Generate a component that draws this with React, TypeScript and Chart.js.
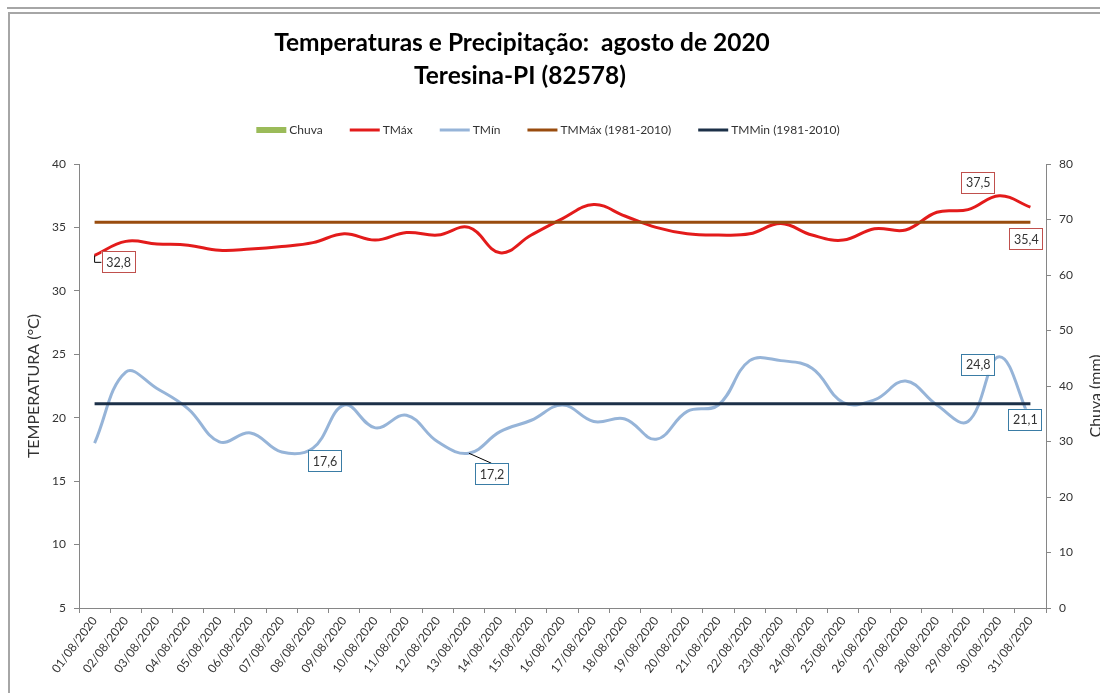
import React, { useEffect, useRef } from 'react';
import { Chart, registerables } from 'chart.js';

Chart.register(...registerables);

const FONT = 'Lato, "Open Sans", "DejaVu Sans", sans-serif';

const dias = [
  '01/08/2020', '02/08/2020', '03/08/2020', '04/08/2020', '05/08/2020', '06/08/2020', '07/08/2020', '08/08/2020',
  '09/08/2020', '10/08/2020', '11/08/2020', '12/08/2020', '13/08/2020', '14/08/2020', '15/08/2020', '16/08/2020',
  '17/08/2020', '18/08/2020', '19/08/2020', '20/08/2020', '21/08/2020', '22/08/2020', '23/08/2020', '24/08/2020',
  '25/08/2020', '26/08/2020', '27/08/2020', '28/08/2020', '29/08/2020', '30/08/2020', '31/08/2020',
];

const chuva = [0, 0, 0, 0, 0, 0, 0, 0, 0, 0, 0, 0, 0, 0, 0, 0, 0, 0, 0, 0, 0, 0, 0, 0, 0, 0, 0, 0, 0, 0, 0];

const tMax = [32.8, 33.9, 33.7, 33.6, 33.2, 33.3, 33.5, 33.8, 34.5, 34.0, 34.6, 34.4, 35.0, 33.0, 34.4, 35.7,
  36.8, 35.9, 35.0, 34.5, 34.4, 34.5, 35.3, 34.4, 34.0, 34.9, 34.8, 36.2, 36.4, 37.5, 36.6];

const tMin = [18.0, 23.6, 22.3, 20.7, 18.1, 18.8, 17.3, 17.6, 21.0, 19.2, 20.2, 18.1, 17.2, 18.9, 19.8, 21.0,
  19.7, 19.9, 18.3, 20.5, 21.0, 24.5, 24.5, 23.9, 21.2, 21.4, 22.9, 21.0, 19.7, 24.8, 19.8];

const tmMax = [35.4, 35.4, 35.4, 35.4, 35.4, 35.4, 35.4, 35.4, 35.4, 35.4, 35.4, 35.4, 35.4, 35.4, 35.4, 35.4,
  35.4, 35.4, 35.4, 35.4, 35.4, 35.4, 35.4, 35.4, 35.4, 35.4, 35.4, 35.4, 35.4, 35.4, 35.4];

const tmMin = [21.1, 21.1, 21.1, 21.1, 21.1, 21.1, 21.1, 21.1, 21.1, 21.1, 21.1, 21.1, 21.1, 21.1, 21.1, 21.1,
  21.1, 21.1, 21.1, 21.1, 21.1, 21.1, 21.1, 21.1, 21.1, 21.1, 21.1, 21.1, 21.1, 21.1, 21.1];

const titulo = ['Temperaturas e Precipitação:  agosto de 2020', 'Teresina-PI (82578)'];
const nomes = ['Chuva', 'TMáx', 'TMín', 'TMMáx (1981-2010)', 'TMMin (1981-2010)'];
const eixoTemp = 'TEMPERATURA (°C)';
const eixoChuva = 'Chuva (mm)';

const COL = {
  chuva: '#9bbb59',
  tmax: '#e31b1b',
  tmin: '#96b4d8',
  tmmax: '#994c0e',
  tmmin: '#1c3048',
  boxRed: '#c0504d',
  boxBlue: '#3a7ca5',
  axis: '#868686',
  text: '#333333',
};

// data-label placement (dataset index, point index, box offset from point)
const rotulos = [
  { ds: 1, i: 0, dx: 7, dy: -4, color: COL.boxRed, leader: 'elbow' },
  { ds: 1, i: 29, dx: -38, dy: -24, color: COL.boxRed, leader: '' },
  { ds: 3, i: 30, dx: -21, dy: 6, color: COL.boxRed, leader: '' },
  { ds: 2, i: 7, dx: -5, dy: 2, color: COL.boxBlue, leader: '' },
  { ds: 2, i: 12, dx: 6, dy: 10, color: COL.boxBlue, leader: 'straight' },
  { ds: 2, i: 29, dx: -38, dy: -3, color: COL.boxBlue, leader: '' },
  { ds: 4, i: 30, dx: -22, dy: 5, color: COL.boxBlue, leader: '' },
];

const decor = {
  id: 'decor',
  beforeDraw(chart: any) {
    const ctx = chart.ctx;
    const W = chart.width;
    const H = chart.height;
    ctx.save();
    ctx.fillStyle = '#ffffff';
    ctx.fillRect(0, 0, W, H);
    ctx.strokeStyle = '#a6a6a6';
    ctx.lineWidth = 2;
    ctx.beginPath();
    ctx.moveTo(7, 8);
    ctx.lineTo(W, 8);
    ctx.stroke();
    ctx.beginPath();
    ctx.moveTo(9, H);
    ctx.lineTo(9, 13);
    ctx.lineTo(W, 13);
    ctx.stroke();

    // title
    ctx.fillStyle = '#000000';
    ctx.textAlign = 'center';
    ctx.textBaseline = 'middle';
    ctx.font = `bold 24.5px ${FONT}`;
    ctx.fillText(titulo[0], 522, 43);
    ctx.fillText(titulo[1], 520, 76);

    // legend
    ctx.font = `12px ${FONT}`;
    const mk = 30, gap = 3, sep = 27;
    const widths = nomes.map((n) => ctx.measureText(n).width);
    const total = widths.reduce((a, w) => a + mk + gap + w, 0) + sep * (nomes.length - 1);
    let x = 548 - total / 2;
    const y = 130;
    const cols = [COL.chuva, COL.tmax, COL.tmin, COL.tmmax, COL.tmmin];
    nomes.forEach((n, k) => {
      if (k === 0) {
        ctx.fillStyle = cols[k];
        ctx.fillRect(x, y - 3, mk, 6);
      } else {
        ctx.strokeStyle = cols[k];
        ctx.lineWidth = 3;
        ctx.beginPath();
        ctx.moveTo(x, y);
        ctx.lineTo(x + mk, y);
        ctx.stroke();
      }
      ctx.fillStyle = COL.text;
      ctx.textAlign = 'left';
      ctx.fillText(n, x + mk + gap, y);
      x += mk + gap + widths[k] + sep;
    });

    // axis titles
    const area = chart.chartArea;
    const cy = (area.top + area.bottom) / 2;
    ctx.font = `16px ${FONT}`;
    ctx.fillStyle = COL.text;
    ctx.textAlign = 'center';
    ctx.save();
    ctx.translate(34, cy);
    ctx.rotate(-Math.PI / 2);
    ctx.fillText(eixoTemp, 0, 0);
    ctx.restore();
    ctx.font = `16px ${FONT}`;
    ctx.save();
    ctx.translate(1096, cy + 10);
    ctx.rotate(-Math.PI / 2);
    ctx.fillText(eixoChuva, 0, 0);
    ctx.restore();
    ctx.restore();
  },
  afterDatasetsDraw(chart: any) {
    const ctx = chart.ctx;
    ctx.save();
    ctx.font = `12.5px ${FONT}`;
    ctx.textAlign = 'center';
    ctx.textBaseline = 'middle';
    rotulos.forEach((r) => {
      const el = chart.getDatasetMeta(r.ds).data[r.i];
      const v = chart.data.datasets[r.ds].data[r.i] as number;
      const txt = v.toFixed(1).replace('.', ',');
      const w = 33, h = 21;
      const bx = el.x + r.dx;
      const by = el.y + r.dy;
      ctx.strokeStyle = '#000000';
      ctx.lineWidth = 1;
      if (r.leader === 'elbow') {
        ctx.beginPath();
        ctx.moveTo(el.x, el.y);
        ctx.lineTo(el.x, el.y + 7);
        ctx.lineTo(bx, el.y + 7);
        ctx.stroke();
      } else if (r.leader === 'straight') {
        ctx.beginPath();
        ctx.moveTo(el.x, el.y);
        ctx.lineTo(bx + w / 2, by);
        ctx.stroke();
      }
      ctx.fillStyle = '#ffffff';
      ctx.fillRect(bx, by, w, h);
      ctx.strokeStyle = r.color;
      ctx.strokeRect(Math.round(bx) + 0.5, Math.round(by) + 0.5, w, h);
      ctx.fillStyle = COL.text;
      ctx.fillText(txt, bx + w / 2 + 0.5, by + h / 2 + 1);
    });
    ctx.restore();
  },
};

export default function App() {
  const ref = useRef<HTMLCanvasElement | null>(null);
  useEffect(() => {
    document.body.style.margin = '0';
    const canvas = ref.current!;
    const tickFont = { family: FONT, size: 12 };
    const chart = new Chart(canvas, {
      type: 'bar',
      data: {
        labels: dias,
        datasets: [
          { type: 'bar', label: nomes[0], data: chuva, backgroundColor: COL.chuva, yAxisID: 'y1', order: 5 },
          { type: 'line', label: nomes[1], data: tMax, borderColor: COL.tmax, borderWidth: 3, pointRadius: 0, tension: 0.4, yAxisID: 'y', order: 4 },
          { type: 'line', label: nomes[2], data: tMin, borderColor: COL.tmin, borderWidth: 3, pointRadius: 0, tension: 0.4, yAxisID: 'y', order: 3 },
          { type: 'line', label: nomes[3], data: tmMax, borderColor: COL.tmmax, borderWidth: 3, pointRadius: 0, tension: 0, yAxisID: 'y', order: 2 },
          { type: 'line', label: nomes[4], data: tmMin, borderColor: COL.tmmin, borderWidth: 3, pointRadius: 0, tension: 0, yAxisID: 'y', order: 1 },
        ] as any,
      },
      options: {
        responsive: false,
        animation: false,
        devicePixelRatio: 1,
        layout: { padding: { top: 164, left: 0, right: 0, bottom: 0 } },
        plugins: {
          legend: { display: false },
          title: { display: false },
          tooltip: { enabled: false },
        },
        scales: {
          x: {
            offset: true,
            grid: { display: true, offset: true, drawOnChartArea: false, drawTicks: true, tickLength: 5, color: COL.axis },
            border: { display: true, color: COL.axis, width: 1 },
            ticks: { autoSkip: false, maxRotation: 53, minRotation: 53, color: COL.text, font: tickFont, padding: 1 },
            afterFit: (s: any) => { s.height = 85; },
          },
          y: {
            position: 'left',
            min: 5,
            max: 40,
            ticks: { stepSize: 5, color: COL.text, font: tickFont, padding: 8 },
            grid: { drawOnChartArea: false, drawTicks: true, tickLength: 5, color: COL.axis },
            border: { display: true, color: COL.axis, width: 1 },
            afterFit: (s: any) => { s.width = 79; },
          },
          y1: {
            position: 'right',
            min: 0,
            max: 80,
            ticks: { stepSize: 10, color: COL.text, font: tickFont, padding: 8 },
            grid: { drawOnChartArea: false, drawTicks: true, tickLength: 5, color: COL.axis },
            border: { display: true, color: COL.axis, width: 1 },
            afterFit: (s: any) => { s.width = 54; },
          },
        },
      } as any,
      plugins: [decor],
    });
    return () => chart.destroy();
  }, []);
  return (
    <div style={{ width: 1100, height: 693, position: 'relative' }}>
      <canvas ref={ref} width={1100} height={693} style={{ display: 'block', width: 1100, height: 693 }} />
    </div>
  );
}
